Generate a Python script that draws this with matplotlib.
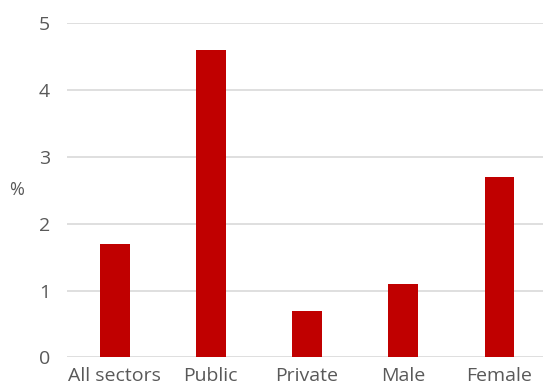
import matplotlib.pyplot as plt

categories = ["All sectors", "Public", "Private", "Male", "Female"]
values = [1.7, 4.6, 0.7, 1.1, 2.7]

plt.rcParams['font.family'] = ['Open Sans', 'DejaVu Sans']
grey = "#595959"

fig = plt.figure(figsize=(5.43, 3.89), dpi=100)
ax = fig.add_axes([0.1225, 0.0815, 0.8775, 0.8585])

ax.bar(range(len(categories)), values, width=0.31, color="#C00000", zorder=3)

ax.set_ylim(0, 5)
ax.set_xlim(-0.5, 4.453)
ax.set_yticks(range(6))
ax.set_xticks(range(len(categories)))
ax.set_xticklabels(categories)
ax.yaxis.grid(True, color="#D9D9D9", linewidth=1.2, zorder=0)
ax.set_axisbelow(True)
for s in ax.spines.values():
    s.set_visible(False)
ax.tick_params(axis="both", length=0, labelsize=14, colors=grey)
ax.tick_params(axis="y", pad=12)
ax.tick_params(axis="x", pad=7)

ax.set_ylabel("%", rotation=0, fontsize=13, color=grey, labelpad=16, va="center")

fig.savefig("out.png", dpi=100)
